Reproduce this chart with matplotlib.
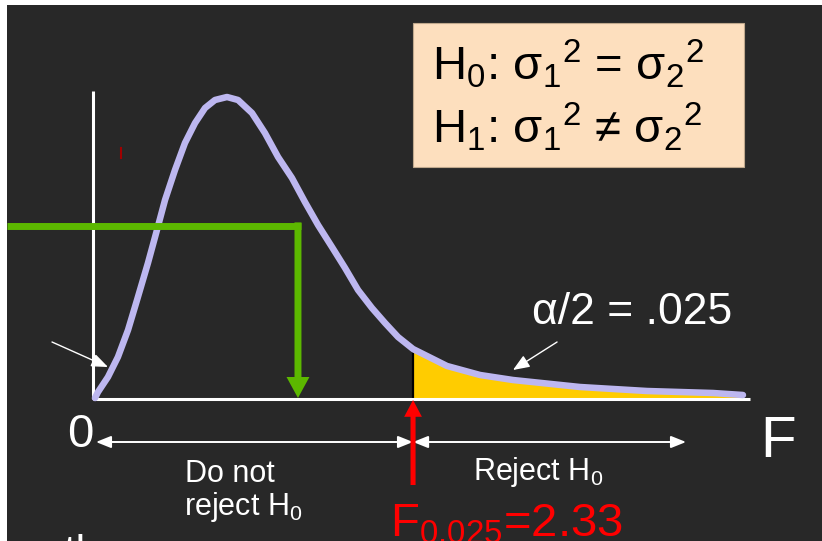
import numpy as np
import matplotlib
matplotlib.use("Agg")
import matplotlib.pyplot as plt
from matplotlib.patches import Rectangle

plt.rcParams['font.family'] = ['Liberation Sans', 'DejaVu Sans']
plt.rcParams['mathtext.fontset'] = 'custom'
plt.rcParams['mathtext.rm'] = 'Liberation Sans'
plt.rcParams['mathtext.it'] = 'Liberation Sans:italic'
plt.rcParams['mathtext.bf'] = 'Liberation Sans:bold'
plt.rcParams['mathtext.default'] = 'rm'

# F density curve (F value, height)
curve_f = [0.0, 0.022, 0.095, 0.168, 0.242, 0.308, 0.388, 0.454, 0.513, 0.586,
           0.659, 0.733, 0.806, 0.879, 0.967, 1.048, 1.150, 1.245, 1.341, 1.443,
           1.538, 1.634, 1.736, 1.832, 1.927, 2.029, 2.125, 2.220, 2.330, 2.418,
           2.579, 2.821, 3.062, 3.553, 4.044, 4.527, 4.747]
curve_d = [0.0, 0.015, 0.0525, 0.1025, 0.17, 0.245, 0.3375, 0.42, 0.495, 0.57,
           0.6375, 0.6875, 0.725, 0.745, 0.7525, 0.745, 0.7125, 0.6625, 0.6025, 0.55,
           0.49, 0.4325, 0.3775, 0.325, 0.27, 0.225, 0.1875, 0.1525, 0.1225, 0.1075,
           0.08, 0.0575, 0.045, 0.0275, 0.0175, 0.0125, 0.0075]

f_crit = 2.33
crit_label = "F$_{0.025}$=2.33"
alpha_label = "α/2 = .025"
green_level = 0.43
green_f = 1.487
h0_line = "H$_0$: σ$_1$$^2$ = σ$_2$$^2$"
h1_line = "H$_1$: σ$_1$$^2$ ≠ σ$_2$$^2$"

bg = '#282828'
lav = '#BDB7F0'
green = '#5CB800'
yellow = '#FFCC00'

fig = plt.figure(figsize=(8.22, 5.41), dpi=100)
fig.patch.set_facecolor('white')
ax = fig.add_axes([0, 0, 1, 1])
ax.set_xlim(-95 / 136.5, 727 / 136.5)
ax.set_ylim(-143 / 400, 398 / 400)
ax.axis('off')
# dark slide area, white strip on top and left
ax.add_patch(Rectangle((7 / 822, 0), 1, 536 / 541, transform=ax.transAxes,
                       facecolor=bg, edgecolor='none', zorder=0, clip_on=False))

fx = np.array(curve_f)
fd = np.array(curve_d)

# hypothesis box
ax.add_patch(Rectangle((2.33, 0.5775), 2.425, 0.36, facecolor='#FDDFBE',
                       edgecolor='#BFA88C', lw=0.8, zorder=1))
ax.text(2.469, 0.795, h0_line, fontsize=34, color='black', zorder=5)
ax.text(2.469, 0.6375, h1_line, fontsize=34, color='black', zorder=5)

# rejection region
tail = fx >= f_crit
ax.fill_between(fx[tail], fd[tail], 0, color=yellow, lw=0, zorder=2)
ax.plot([f_crit, f_crit], [0, 0.11], color='black', lw=1.6, zorder=3)

# axes lines
ax.plot([-0.015, 4.799], [-0.0025, -0.0025], color='white', lw=2.2,
        solid_capstyle='butt', zorder=3)
ax.plot([-0.015, -0.015], [-0.0025, 0.7675], color='white', lw=2.2,
        solid_capstyle='butt', zorder=3)

ax.plot(fx, fd, color=lav, lw=4.7, solid_capstyle='round', solid_joinstyle='round', zorder=4)

# green read-off line
ax.plot([-0.645, green_f + 0.025], [green_level, green_level], color=green, lw=5,
        solid_capstyle='butt', zorder=5)
ax.arrow(green_f, green_level + 0.009, 0, -green_level - 0.009, width=0.051,
         head_width=0.168, head_length=0.0525, length_includes_head=True,
         color=green, lw=0, zorder=5)

# region arrows
for a, b in [(0.007, f_crit), (f_crit, 4.33)]:
    ax.annotate('', xy=(b, -0.11), xytext=(a, -0.11),
                arrowprops=dict(arrowstyle='<|-|>,head_length=0.9,head_width=0.36',
                                mutation_scale=10, color='white', lw=1.4,
                                shrinkA=0, shrinkB=0), zorder=6)

# critical value arrow
ax.arrow(f_crit, -0.2175, 0, 0.2125, width=0.037, head_width=0.13,
         head_length=0.042, length_includes_head=True, color='#FF0000', lw=0, zorder=7)

# pointer arrows
for (x0, y0), (x1, y1) in [((-0.315, 0.14), (0.095, 0.0775)),
                           ((3.385, 0.14), (3.062, 0.07))]:
    ax.annotate('', xy=(x1, y1), xytext=(x0, y0),
                arrowprops=dict(arrowstyle='-|>,head_length=1.0,head_width=0.4',
                                mutation_scale=10, color='white', lw=1.0,
                                shrinkA=0, shrinkB=0), zorder=6)

# stray red mark
ax.plot([0.19, 0.19], [0.60, 0.625], color='#A00000', lw=1.5, zorder=3)

# labels
ax.text(-0.11, -0.1225, '0', fontsize=34, color='white', ha='center', zorder=6)
ax.text(5.004, -0.1475, 'F', fontsize=42, color='white', ha='center', zorder=6)
ax.text(0.659, -0.21, 'Do not', fontsize=22, color='white', zorder=6)
ax.text(0.652, -0.2925, 'reject H$_0$', fontsize=22, color='white', zorder=6)
ax.text(2.769, -0.205, 'Reject H$_0$', fontsize=22, color='white', zorder=6)
ax.text(3.20, 0.185, alpha_label, fontsize=32, color='white', zorder=6)
ax.text(2.161, -0.3475, crit_label, fontsize=34, color='#FF0000', zorder=8)
ax.text(-0.234, -0.419, 'th', fontsize=32, color='white', zorder=6)

fig.savefig('out.png', dpi=100, facecolor=fig.get_facecolor())
